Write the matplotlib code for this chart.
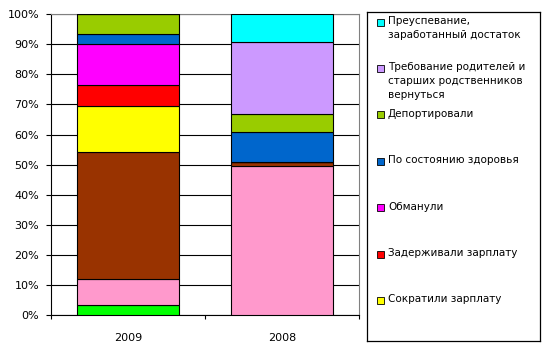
import matplotlib.pyplot as plt
import numpy as np
from matplotlib.patches import Rectangle

# Categories (x axis)
years = ['2009', '2008']

# Series, bottom of stack first (percent of total)
green = [3.3, 0.0]
pink = [8.7, 49.7]
brown = [42.1, 1.3]
cut_salary = [15.3, 0.0]
delayed_salary = [6.9, 0.0]
cheated = [13.6, 0.0]
health = [3.4, 9.9]
deported = [6.7, 5.8]
parents = [0.0, 23.9]
prosperity = [0.0, 9.4]

series = [green, pink, brown, cut_salary, delayed_salary, cheated,
          health, deported, parents, prosperity]
colors = ['#00FF00', '#FF99CC', '#993300', '#FFFF00', '#FF0000', '#FF00FF',
          '#0066CC', '#99CC00', '#CC99FF', '#00FFFF']

# Legend entries visible in the chart (top to bottom)
legend_labels = [
    'Преуспевание,\nзаработанный достаток',
    'Требование родителей и\nстарших родственников\nвернуться',
    'Депортировали',
    'По состоянию здоровья',
    'Обманули',
    'Задерживали зарплату',
    'Сократили зарплату',
]
legend_colors = ['#00FFFF', '#CC99FF', '#99CC00', '#0066CC', '#FF00FF',
                 '#FF0000', '#FFFF00']

W, H = 545, 353
fig = plt.figure(figsize=(W / 100, H / 100), dpi=100)
ax = fig.add_axes([51 / W, 1 - 315.3 / H, 308 / W, 301.3 / H])

x = np.arange(len(years))
bottom = np.zeros(len(years))
for vals, c in zip(series, colors):
    ax.bar(x, vals, width=0.667, bottom=bottom, color=c,
           edgecolor='black', linewidth=0.8, zorder=3)
    bottom += np.array(vals)

ax.set_xlim(-0.5, 1.5)
ax.set_ylim(0, 100)
ax.set_yticks(np.arange(0, 101, 10))
ax.set_yticklabels([f'{v}%' for v in range(0, 101, 10)], fontsize=8)
ax.yaxis.grid(True, color='black', linewidth=0.8, zorder=0)
ax.tick_params(axis='y', length=3.6, width=0.8, pad=5)

ax.set_xticks(x)
ax.set_xticklabels(years, fontsize=8)
ax.tick_params(axis='x', which='major', length=0, pad=12.5)
ax.set_xticks([-0.5, 0.5, 1.5], minor=True)
ax.tick_params(axis='x', which='minor', length=3, width=0.8)

for s in ['left', 'bottom']:
    ax.spines[s].set_color('black')
    ax.spines[s].set_linewidth(0.8)
for s in ['top', 'right']:
    ax.spines[s].set_color('#808080')
    ax.spines[s].set_linewidth(0.8)

# Legend box, drawn in pixel coordinates
lx0, lx1, ly0, ly1 = 367, 540, 12, 341
lax = fig.add_axes([lx0 / W, 1 - ly1 / H, (lx1 - lx0) / W, (ly1 - ly0) / H])
lax.set_xlim(lx0, lx1)
lax.set_ylim(ly1, ly0)
lax.set_xticks([])
lax.set_yticks([])
for s in lax.spines.values():
    s.set_linewidth(0.9)
    s.set_color('black')

for i, (lab, c) in enumerate(zip(legend_labels, legend_colors)):
    yc = 22 + 46.4 * i
    lax.add_patch(Rectangle((377, yc - 3.5), 7, 7, facecolor=c,
                            edgecolor='black', linewidth=0.6))
    lax.text(388, yc - 6, lab, fontsize=7.5, va='top', ha='left',
             linespacing=1.45)

fig.savefig('out.png', dpi=100)
